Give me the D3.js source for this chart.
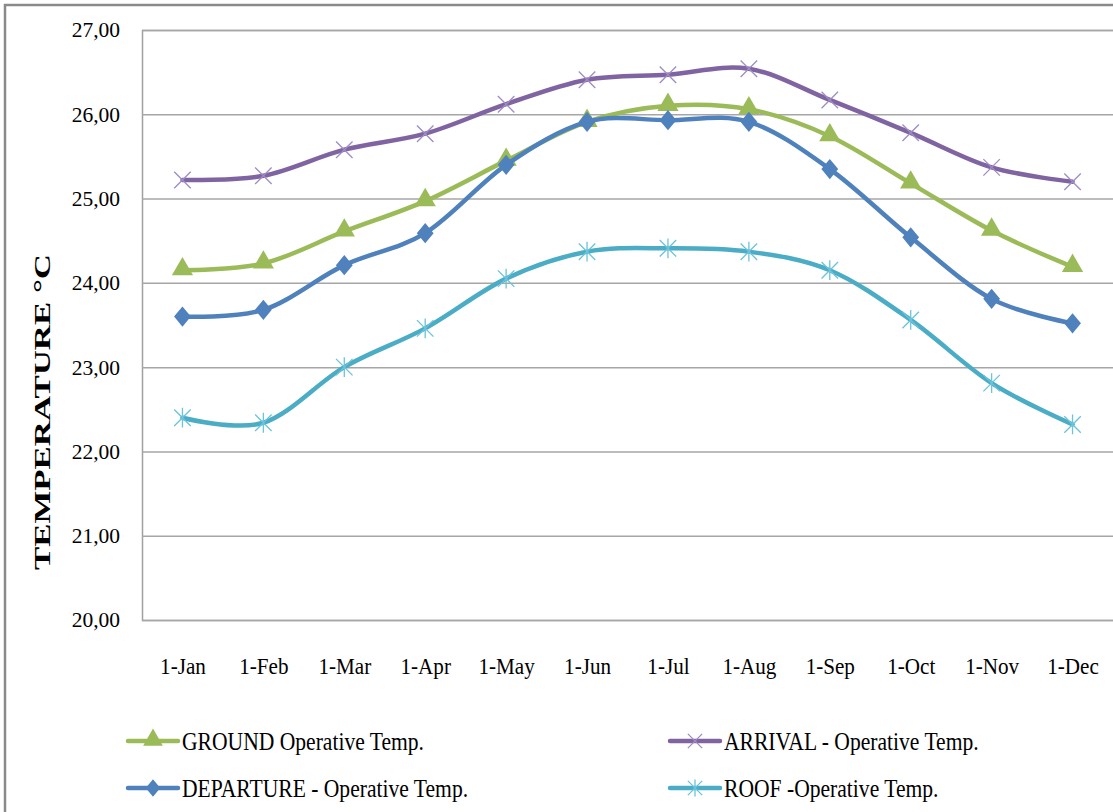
<!DOCTYPE html>
<html><head><meta charset="utf-8">
<script src="https://cdn.jsdelivr.net/npm/d3@7"></script>
<style>
html,body{margin:0;padding:0;background:#fff;}
svg{display:block;font-family:"Liberation Serif","Times New Roman",serif;}
svg text{font-family:"Liberation Serif","Times New Roman",serif;}
</style></head>
<body>
<svg id="chart" width="1113" height="812"></svg>
<script>
const categories = ["1-Jan","1-Feb","1-Mar","1-Apr","1-May","1-Jun","1-Jul","1-Aug","1-Sep","1-Oct","1-Nov","1-Dec"];
const groundValues    = [24.15,24.23,24.61,24.97,25.45,25.91,26.10,26.06,25.74,25.18,24.62,24.19];
const arrivalValues   = [25.22,25.27,25.58,25.77,26.12,26.41,26.47,26.54,26.17,25.78,25.37,25.20];
const departureValues = [23.60,23.68,24.21,24.59,25.40,25.91,25.93,25.91,25.35,24.54,23.81,23.52];
const roofValues      = [22.40,22.34,23.00,23.46,24.05,24.37,24.41,24.37,24.15,23.56,22.81,22.32];
const yTicks = [20,21,22,23,24,25,26,27];
const seriesNames = ["GROUND Operative Temp.","ARRIVAL - Operative Temp.","DEPARTURE - Operative Temp.","ROOF -Operative Temp."];
const yTitle = "TEMPERATURE  °C";

const series = [
  {name: seriesNames[0], values: groundValues,    color:"#9BBB59", marker:"triangle", mcolor:"#9BBB59"},
  {name: seriesNames[1], values: arrivalValues,   color:"#8064A2", marker:"x",        mcolor:"#9e8cc4"},
  {name: seriesNames[2], values: departureValues, color:"#4F81BD", marker:"diamond",  mcolor:"#4F81BD"},
  {name: seriesNames[3], values: roofValues,      color:"#4BACC6", marker:"star",     mcolor:"#6cc3da"}
];

const svg = d3.select("#chart");
const W = 1113, H = 812;
const plot = {left:142, right:1113, top:30, bottom:620};

// outer border
svg.append("rect").attr("x",5).attr("y",5).attr("width",W+10).attr("height",H+10)
  .attr("fill","none").attr("stroke","#8a8a8a").attr("stroke-width",2.5);

const x = d3.scalePoint().domain(categories).range([plot.left, plot.right]).padding(0.5);
const y = d3.scaleLinear().domain([20,27]).range([plot.bottom, plot.top]);

const loc = d3.formatLocale({decimal:",", thousands:".", grouping:[3], currency:["",""]});
const fmt = loc.format(".2f");

// gridlines + y labels
const yAxis = d3.axisLeft(y).tickValues(yTicks).tickSize(-(plot.right-plot.left)).tickFormat(fmt).tickPadding(22);
const gy = svg.append("g").attr("transform",`translate(${plot.left},0)`).call(yAxis)
  .attr("font-family",null);
gy.select(".domain").attr("stroke","#a0a0a0").attr("stroke-width",1.5);
gy.selectAll(".tick line").attr("stroke","#a6a6a6").attr("stroke-width",1.5);
gy.selectAll(".tick text").attr("font-size",21.5).attr("fill","#000");

// x labels
const xAxis = d3.axisBottom(x).tickSize(0).tickPadding(0);
const gx = svg.append("g").attr("transform",`translate(0,${plot.bottom})`).call(xAxis)
  .attr("font-family",null);
gx.select(".domain").remove();
gx.selectAll(".tick text").attr("font-size",24).attr("fill","#000").attr("dy",null).attr("y",54)
  .attr("transform","scale(0.88,1)");

// y title
svg.append("text")
  .attr("transform","translate(50,412) rotate(-90)")
  .attr("text-anchor","middle")
  .attr("font-size",22.5).attr("font-weight","bold")
  .attr("textLength",316).attr("lengthAdjust","spacingAndGlyphs")
  .text(yTitle);

// markers
function drawMarker(g, type, color, size){
  if(type==="triangle"){
    g.append("path").attr("d", d3.symbol().type(d3.symbolTriangle).size(size*13)())
      .attr("transform","translate(0,-1)").attr("fill",color);
  } else if(type==="diamond"){
    const s = size*0.56;
    g.append("path").attr("d",`M0,${-s*1.2}L${s},0L0,${s*1.2}L${-s},0Z`).attr("fill",color);
  } else if(type==="x"){
    const s = size*0.55;
    g.append("path").attr("d",`M${-s},${-s}L${s},${s}M${-s},${s}L${s},${-s}`)
      .attr("stroke",color).attr("stroke-width",1.3).attr("fill","none");
  } else if(type==="star"){
    const s = size*0.55;
    g.append("path").attr("d",`M${-s},${-s}L${s},${s}M${-s},${s}L${s},${-s}M0,${-s*1.2}L0,${s*1.2}`)
      .attr("stroke",color).attr("stroke-width",1.3).attr("fill","none");
  }
}

const line = d3.line().x((d,i)=>x(categories[i])).y(d=>y(d)).curve(d3.curveCardinal.tension(0));
series.forEach(s=>{
  const g = svg.append("g");
  g.append("path").datum(s.values).attr("d",line)
    .attr("fill","none").attr("stroke",s.color).attr("stroke-width",4.5)
    .attr("stroke-linejoin","round").attr("stroke-linecap","round");
  s.values.forEach((v,i)=>{
    const mg = g.append("g").attr("transform",`translate(${x(categories[i])},${y(v)})`);
    drawMarker(mg, s.marker, s.mcolor, 15);
  });
});

// legend
const legendPos = [
  {x:128, y:741},{x:670, y:741},{x:128, y:788},{x:670, y:788}
];
series.forEach((s,i)=>{
  const p = legendPos[i];
  const g = svg.append("g").attr("transform",`translate(${p.x},${p.y})`);
  g.append("line").attr("x1",0).attr("x2",50).attr("y1",0).attr("y2",0)
    .attr("stroke",s.color).attr("stroke-width",4.5).attr("stroke-linecap","round");
  const mg = g.append("g").attr("transform","translate(25,0)");
  drawMarker(mg, s.marker, s.mcolor, 13);
  g.append("text").attr("x",54).attr("y",0).attr("dy","0.35em")
    .attr("font-size",26).attr("fill","#000")
    .text(s.name)
    .each(function(){
      const len = this.getComputedTextLength();
      d3.select(this).attr("textLength", len*0.83).attr("lengthAdjust","spacingAndGlyphs");
    });
});
</script>
</body></html>
